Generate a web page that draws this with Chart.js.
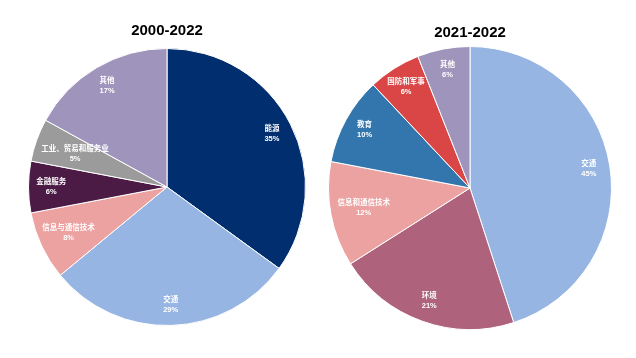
<!DOCTYPE html>
<html>
<head>
<meta charset="utf-8">
<script src="https://cdn.jsdelivr.net/npm/chart.js@4.4.0/dist/chart.umd.min.js"></script>
<style>
  body { margin: 0; background: #fff; width: 636px; height: 358px; position: relative; overflow: hidden; }
  .box { position: absolute; top: 0; height: 358px; }
</style>
</head>
<body>
<div class="box" style="left:0; width:334px;"><canvas id="chartA"></canvas></div>
<div class="box" style="left:320px; width:316px;"><canvas id="chartB"></canvas></div>
<script>
// 2000-2022
var labelsA = ['能源', '交通', '信息与通信技术', '金融服务', '工业、贸易和服务业', '其他'];
var valuesA = [35, 29, 8, 6, 5, 17];
var colorsA = ['#002e6f', '#97b5e3', '#eca2a1', '#4b1b45', '#9b9b9b', '#9f94bb'];

// 2021-2022
var labelsB = ['交通', '环境', '信息和通信技术', '教育', '国防和军事', '其他'];
var valuesB = [45, 21, 12, 10, 6, 6];
var colorsB = ['#97b5e3', '#ae627b', '#eca2a1', '#3376ae', '#da4646', '#9f94bb'];

var fontFamily = '"Liberation Sans", Arial, "Noto Sans CJK SC", sans-serif';

// draws name + percent inside each slice, pulled inward when the text is wide
var sliceLabels = {
    id: 'sliceLabels',
    afterDatasetsDraw: function(chart) {
        var ctx = chart.ctx;
        var meta = chart.getDatasetMeta(0);
        var data = chart.data.datasets[0].data;
        ctx.save();
        ctx.fillStyle = '#ffffff';
        ctx.textAlign = 'center';
        ctx.textBaseline = 'middle';
        ctx.font = 'bold 7.5px ' + fontFamily;
        meta.data.forEach(function(arc, i) {
            var p = arc.getProps(['x', 'y', 'startAngle', 'endAngle', 'outerRadius']);
            var mid = (p.startAngle + p.endAngle) / 2;
            var R = p.outerRadius;
            var half = ctx.measureText(chart.data.labels[i]).width / 2;
            var r = R * 0.85;
            while (r > R * 0.5) {
                var cx = Math.cos(mid) * r, cy = Math.sin(mid) * r;
                var far = Math.max(Math.hypot(cx - half, cy - 5), Math.hypot(cx + half, cy - 5));
                if (far <= R * 0.95) break;
                r -= 1;
            }
            var x = p.x + Math.cos(mid) * r;
            var y = p.y + Math.sin(mid) * r;
            ctx.fillText(chart.data.labels[i], x, y - 5);
            ctx.fillText(data[i] + '%', x, y + 5);
        });
        ctx.restore();
    }
};

function makeOptions(title, pad, titleTop, titleBottom) {
    return {
        responsive: true,
        maintainAspectRatio: false,
        animation: false,
        layout: { padding: pad },
        plugins: {
            legend: { display: false },
            tooltip: { enabled: false },
            title: {
                display: true,
                text: title,
                color: '#000000',
                font: { family: fontFamily, size: 15, weight: 'bold' },
                padding: { top: titleTop, bottom: titleBottom }
            }
        }
    };
}

new Chart(document.getElementById('chartA').getContext('2d'), {
    type: 'pie',
    data: {
        labels: labelsA,
        datasets: [{ data: valuesA, backgroundColor: colorsA, borderColor: '#ffffff', borderWidth: 1 }]
    },
    options: makeOptions('2000-2022', { left: 28, right: 28, top: 0, bottom: 32 }, 22, 8),
    plugins: [sliceLabels]
});

new Chart(document.getElementById('chartB').getContext('2d'), {
    type: 'pie',
    data: {
        labels: labelsB,
        datasets: [{ data: valuesB, backgroundColor: colorsB, borderColor: '#ffffff', borderWidth: 1 }]
    },
    options: makeOptions('2021-2022', { left: 8, right: 24, top: 0, bottom: 28 }, 24, 4),
    plugins: [sliceLabels]
});
</script>
</body>
</html>
